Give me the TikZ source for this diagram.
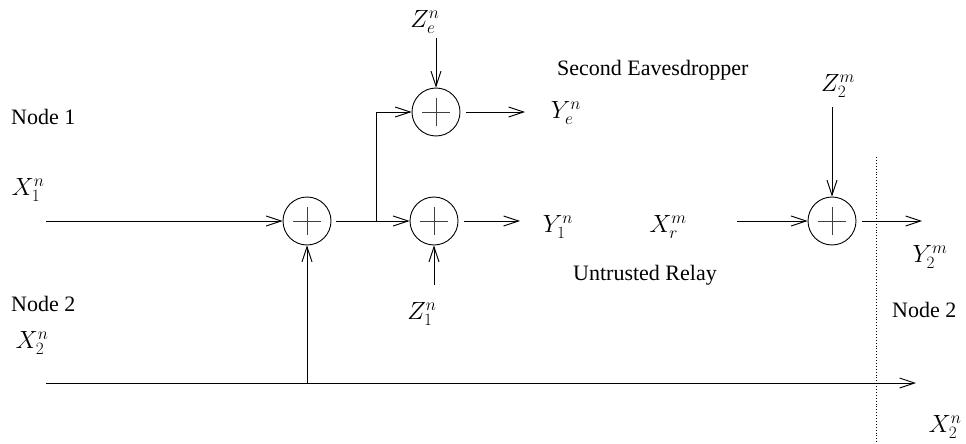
\documentclass[tikz,border=0pt]{standalone}
\usepackage{fontspec}
\setmainfont{Liberation Serif}
\usetikzlibrary{arrows.meta}
\begin{document}
\begin{tikzpicture}[x=1pt,y=-1pt,
  adder/.style={circle,draw,line width=0.9pt,minimum size=48pt,inner sep=0pt,
    path picture={\draw[line width=0.9pt,black!75]
      ([xshift=-14pt]path picture bounding box.center) -- ([xshift=14pt]path picture bounding box.center)
      ([yshift=-14pt]path picture bounding box.center) -- ([yshift=14pt]path picture bounding box.center);}},
  lbl/.style={font=\fontsize{22}{27}\selectfont,inner sep=0pt},
  mlbl/.style={font=\fontsize{26}{31}\selectfont,inner sep=0pt},
  conn/.style={line width=0.9pt,-{Straight Barb[length=15pt,width=10pt]}},
  wire/.style={line width=0.9pt}]
\useasboundingbox (0,0) rectangle (966,444);
% adders
\node[adder] (a1) at (307,221) {};
\node[adder] (ae) at (436,112) {};
\node[adder] (a2) at (434,221) {};
\node[adder] (ar) at (832,221) {};
% labels
\node[lbl,anchor=west] (n1) at (11,117) {Node 1};
\node[mlbl] (x1) at (28,190) {$X_1^n$};
\node[lbl,anchor=west] (n2) at (11,304) {Node 2};
\node[mlbl] (x2) at (32,343) {$X_2^n$};
\node[lbl,anchor=west] (se) at (557,70) {Second Eavesdropper};
\node[lbl,anchor=west] (ur) at (573,275) {Untrusted Relay};
\node[lbl,anchor=west] (n2r) at (892,310) {Node 2};
\node[mlbl] (x2r) at (945,427) {$X_2^n$};
\node[mlbl] (ye) at (566,113) {$Y_e^n$};
\node[mlbl] (y1) at (558,227) {$Y_1^n$};
\node[mlbl] (xr) at (668,227) {$X_r^m$};
\node[mlbl] (z2) at (838,86) {$Z_2^m$};
\node[mlbl] (y2) at (930,257) {$Y_2^m$};
\node[mlbl] (ze) at (425,22) {$Z_e^n$};
\node[mlbl] (z1) at (422,314) {$Z_1^n$};
% connectors
\coordinate (x1s) at (46,221);
\draw[conn] (x1s) -- (a1.west);
\coordinate (j) at (376,221);
\draw[wire] ([xshift=5pt]a1.east) -- (j);
\draw[conn] (j) -- (a2.west);
\draw[conn] (j) |- (ae.west);
\coordinate (yeE) at (525,112);
\draw[conn] ([xshift=6pt]ae.east) -- (yeE);
\coordinate (y1E) at (520,221);
\draw[conn] ([xshift=6pt]a2.east) -- (y1E);
\coordinate (zes) at (436,38);
\draw[conn] (zes) -- (ae.north);
\coordinate (z1s) at (434,285);
\draw[conn] (z1s) -- (a2.south);
\coordinate (xrs) at (737,221);
\draw[conn] (xrs) -- (ar.west);
\coordinate (z2s) at (832,107);
\draw[conn] (z2s) -- (ar.north);
\coordinate (y2E) at (922,221);
\draw[conn] ([xshift=6pt]ar.east) -- (y2E);
\coordinate (bs) at (46,383);
\coordinate (be) at (916,383);
\draw[conn] (bs) -- (be);
\coordinate (bj) at (307,383);
\draw[conn] (bj) -- (a1.south);
\coordinate (d1) at (876,157);
\coordinate (d2) at (876,444);
\draw[dotted,line width=0.9pt] (d1) -- (d2);
\end{tikzpicture}
\end{document}
